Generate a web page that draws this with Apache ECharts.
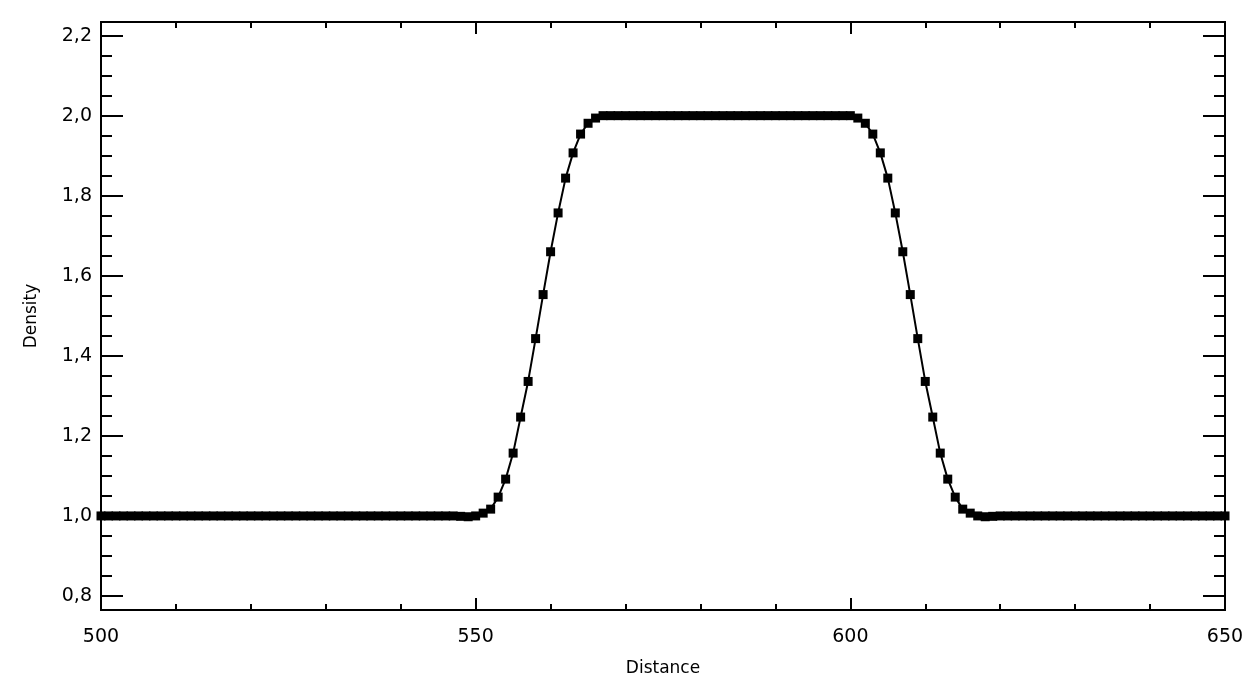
<!DOCTYPE html>
<html>
<head>
<meta charset="utf-8">
<script src="https://cdn.jsdelivr.net/npm/echarts@6/dist/echarts.min.js"></script>
<style>
  html, body { margin: 0; padding: 0; background: #fff; }
  #chart { width: 1260px; height: 682px; }
</style>
</head>
<body>
<div id="chart"></div>
<script>
// distance samples (one per unit)
const distance = [
  500, 501, 502, 503, 504, 505, 506, 507, 508, 509, 510, 511, 512, 513, 514, 515, 516, 517, 518, 519,
  520, 521, 522, 523, 524, 525, 526, 527, 528, 529, 530, 531, 532, 533, 534, 535, 536, 537, 538, 539,
  540, 541, 542, 543, 544, 545, 546, 547, 548, 549, 550, 551, 552, 553, 554, 555, 556, 557, 558, 559,
  560, 561, 562, 563, 564, 565, 566, 567, 568, 569, 570, 571, 572, 573, 574, 575, 576, 577, 578, 579,
  580, 581, 582, 583, 584, 585, 586, 587, 588, 589, 590, 591, 592, 593, 594, 595, 596, 597, 598, 599,
  600, 601, 602, 603, 604, 605, 606, 607, 608, 609, 610, 611, 612, 613, 614, 615, 616, 617, 618, 619,
  620, 621, 622, 623, 624, 625, 626, 627, 628, 629, 630, 631, 632, 633, 634, 635, 636, 637, 638, 639,
  640, 641, 642, 643, 644, 645, 646, 647, 648, 649, 650
];
const density = [
  1.000, 1.000, 1.000, 1.000, 1.000, 1.000, 1.000, 1.000, 1.000, 1.000, 1.000, 1.000, 1.000, 1.000, 1.000, 1.000, 1.000, 1.000, 1.000, 1.000,
  1.000, 1.000, 1.000, 1.000, 1.000, 1.000, 1.000, 1.000, 1.000, 1.000, 1.000, 1.000, 1.000, 1.000, 1.000, 1.000, 1.000, 1.000, 1.000, 1.000,
  1.000, 1.000, 1.000, 1.000, 1.000, 1.000, 1.000, 1.000, 0.999, 0.998, 1.000, 1.007, 1.017, 1.047, 1.092, 1.157, 1.247, 1.336, 1.443, 1.553,
  1.660, 1.757, 1.844, 1.907, 1.954, 1.981, 1.994, 2.000, 2.000, 2.000, 2.000, 2.000, 2.000, 2.000, 2.000, 2.000, 2.000, 2.000, 2.000, 2.000,
  2.000, 2.000, 2.000, 2.000, 2.000, 2.000, 2.000, 2.000, 2.000, 2.000, 2.000, 2.000, 2.000, 2.000, 2.000, 2.000, 2.000, 2.000, 2.000, 2.000,
  2.000, 1.994, 1.981, 1.954, 1.907, 1.844, 1.757, 1.660, 1.553, 1.443, 1.336, 1.247, 1.157, 1.092, 1.047, 1.017, 1.007, 1.000, 0.998, 0.999,
  1.000, 1.000, 1.000, 1.000, 1.000, 1.000, 1.000, 1.000, 1.000, 1.000, 1.000, 1.000, 1.000, 1.000, 1.000, 1.000, 1.000, 1.000, 1.000, 1.000,
  1.000, 1.000, 1.000, 1.000, 1.000, 1.000, 1.000, 1.000, 1.000, 1.000, 1.000
];
const yMajorTicks = [0.8, 1.0, 1.2, 1.4, 1.6, 1.8, 2.0, 2.2];
const yMinorTicks = [0.8, 0.85, 0.9, 0.95, 1.0, 1.05, 1.1, 1.15, 1.2, 1.25, 1.3, 1.35, 1.4, 1.45, 1.5, 1.55,
  1.6, 1.65, 1.7, 1.75, 1.8, 1.85, 1.9, 1.95, 2.0, 2.05, 2.1, 2.15, 2.2];

const chart = echarts.init(document.getElementById('chart'));
const FONT = 'DejaVu Sans';
const Y_MIN = 0.765, Y_MAX = 2.234;

const yAxisBase = (pos, ticks, len, showLabel) => ({
  type: 'value',
  position: pos,
  min: Y_MIN,
  max: Y_MAX,
  splitLine: { show: false },
  axisLine: { show: true, lineStyle: { color: '#000', width: 2 } },
  axisTick: { show: true, inside: true, length: len, customValues: ticks, lineStyle: { color: '#000', width: 2 } },
  axisLabel: {
    show: showLabel,
    customValues: yMajorTicks,
    margin: 9,
    color: '#000',
    fontFamily: FONT,
    fontSize: 19,
    formatter: v => v.toFixed(1).replace('.', ',')
  }
});

const xAxisBase = (pos, showLabel) => ({
  type: 'value',
  position: pos,
  min: 500,
  max: 650,
  interval: 50,
  splitLine: { show: false },
  axisLine: { show: true, onZero: false, lineStyle: { color: '#000', width: 2 } },
  axisTick: { show: true, inside: true, length: 12, lineStyle: { color: '#000', width: 2 } },
  minorTick: { show: true, splitNumber: 5, length: 6, lineStyle: { color: '#000', width: 2 } },
  axisLabel: { show: showLabel, margin: 18, color: '#000', fontFamily: FONT, fontSize: 19 }
});

const series = [{
  type: 'line',
  data: distance.map((d, i) => [d, density[i]]),
  symbol: 'rect',
  symbolSize: 9,
  showAllSymbol: true,
  itemStyle: { color: '#000' },
  lineStyle: { color: '#000', width: 2 },
  animation: false
}];

chart.setOption({
  animation: false,
  grid: { left: 101, right: 35, top: 22, bottom: 72, containLabel: false },
  xAxis: [
    Object.assign(xAxisBase('bottom', true), {
      name: 'Distance', nameLocation: 'middle', nameGap: 50,
      nameTextStyle: { color: '#000', fontFamily: FONT, fontSize: 17 }
    }),
    xAxisBase('top', false)
  ],
  yAxis: [
    Object.assign(yAxisBase('left', yMajorTicks, 22, true), {
      name: 'Density', nameLocation: 'middle', nameGap: 61,
      nameTextStyle: { color: '#000', fontFamily: FONT, fontSize: 17 }
    }),
    yAxisBase('left', yMinorTicks, 11, false),
    yAxisBase('right', yMajorTicks, 22, false),
    yAxisBase('right', yMinorTicks, 11, false)
  ],
  series: series
});
</script>
</body>
</html>
